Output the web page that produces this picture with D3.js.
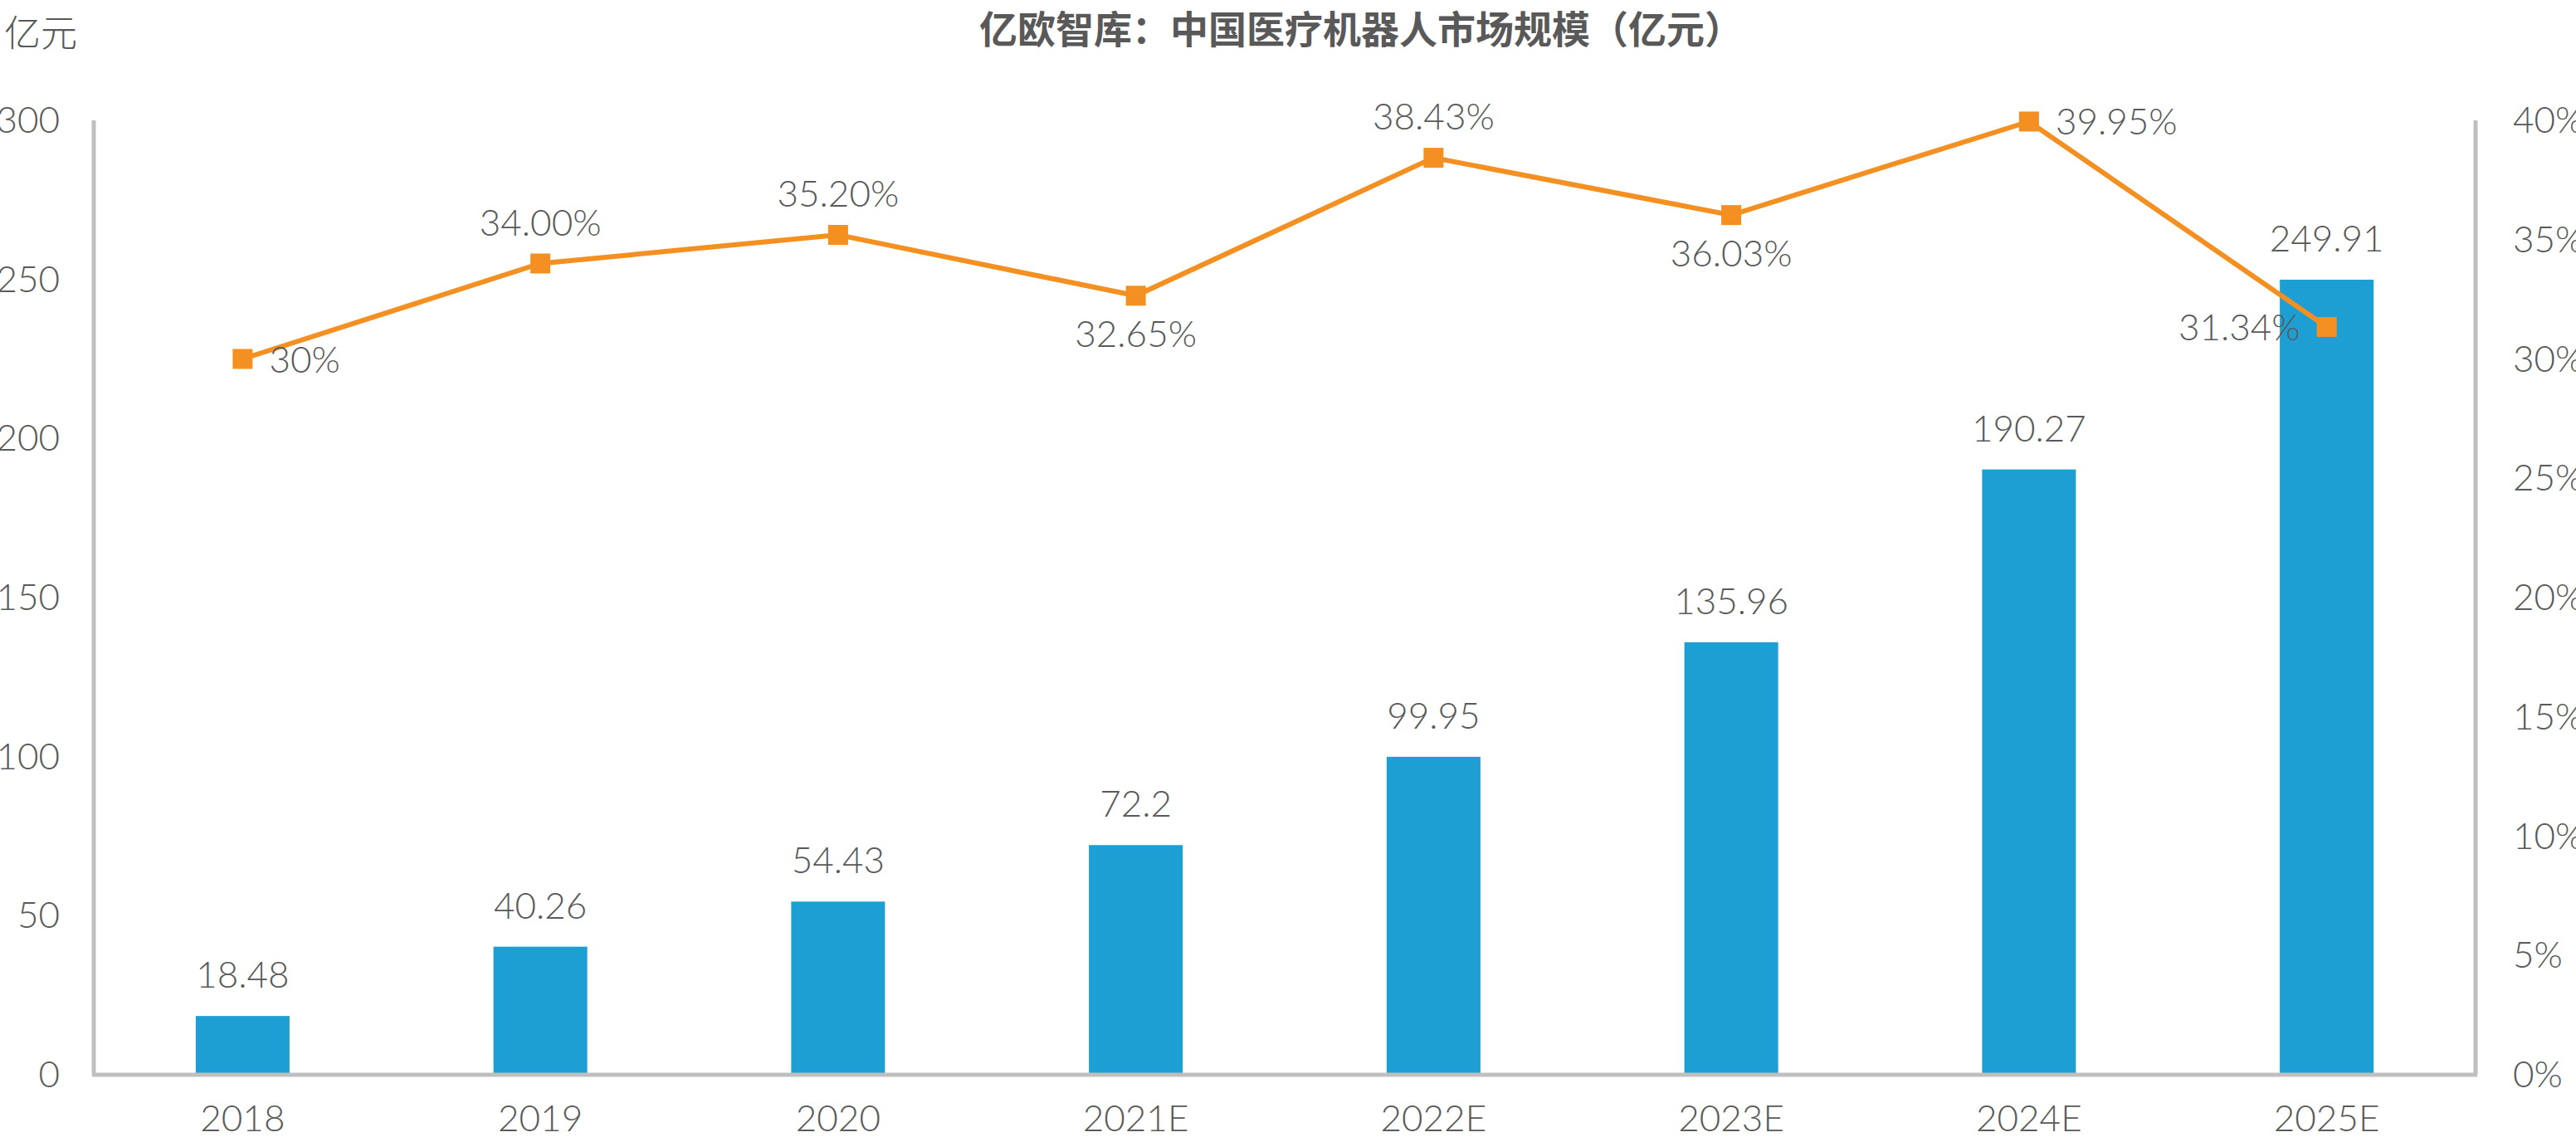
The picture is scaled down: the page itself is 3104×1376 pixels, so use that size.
<!DOCTYPE html><html><head><meta charset="utf-8"><script src="https://cdn.jsdelivr.net/npm/d3@7"></script>
<style>body{margin:0;background:#fff}text{font-family:"Lato","Noto Sans CJK SC",sans-serif;fill:#595959}</style></head><body>
<svg id="c" width="3104" height="1376"></svg>
<script>
const categories=["2018","2019","2020","2021E","2022E","2023E","2024E","2025E"];
const marketSize=[18.48,40.26,54.43,72.2,99.95,135.96,190.27,249.91];
const marketLabels=["18.48","40.26","54.43","72.2","99.95","135.96","190.27","249.91"];
const growth=[30,34.00,35.20,32.65,38.43,36.03,39.95,31.34];
const growthLabels=["30%","34.00%","35.20%","32.65%","38.43%","36.03%","39.95%","31.34%"];
const labelPos=["right","above","above","below","above","below","right","left"];
const leftTicks=[0,50,100,150,200,250,300];
const rightTicks=[0,5,10,15,20,25,30,35,40];

const svg=d3.select("#c");
const L=113,R=2983,T=145,B=1295;
const x=d3.scaleBand().domain(categories).range([L,R]).paddingInner(0.685).paddingOuter(0.3425);
const y=d3.scaleLinear().domain([0,300]).range([B,T]);
const y2=d3.scaleLinear().domain([0,40]).range([B,T]);
const fs=44;

svg.append("text").attr("x",1640).attr("y",52).attr("text-anchor","middle").attr("font-size",46).attr("font-weight",700).style("fill","#595959").style("font-family","Noto Sans CJK SC").text("亿欧智库：中国医疗机器人市场规模（亿元）");
svg.append("text").attr("x",5).attr("y",56).attr("font-size",fs).attr("font-weight",300).style("font-family","Noto Sans CJK SC").text("亿元");

svg.selectAll(".lt").data(leftTicks).join("text").attr("x",72).attr("y",d=>y(d)+15).attr("text-anchor","end").attr("font-size",fs).attr("font-weight",300).text(d=>d);
svg.selectAll(".rt").data(rightTicks).join("text").attr("x",3028).attr("y",d=>y2(d)+15).attr("font-size",fs).attr("font-weight",300).text(d=>d+"%");

svg.selectAll(".bar").data(marketSize).join("rect").attr("x",(d,i)=>x(categories[i])).attr("width",x.bandwidth()).attr("y",d=>y(d)).attr("height",d=>B-y(d)).attr("fill","#1E9FD3");
svg.selectAll(".bl").data(marketSize).join("text").attr("x",(d,i)=>x(categories[i])+x.bandwidth()/2).attr("y",d=>y(d)-34).attr("text-anchor","middle").attr("font-size",fs).attr("font-weight",300).text((d,i)=>marketLabels[i]);

const ax="#BFBFBF";
svg.append("line").attr("x1",L).attr("x2",L).attr("y1",T).attr("y2",B).attr("stroke",ax).attr("stroke-width",5);
svg.append("line").attr("x1",R).attr("x2",R).attr("y1",T).attr("y2",B).attr("stroke",ax).attr("stroke-width",5);
svg.append("line").attr("x1",L-2).attr("x2",R+2).attr("y1",B).attr("y2",B).attr("stroke",ax).attr("stroke-width",5);

svg.selectAll(".xl").data(categories).join("text").attr("x",d=>x(d)+x.bandwidth()/2).attr("y",1363).attr("text-anchor","middle").attr("font-size",fs).attr("font-weight",300).text(d=>d);

const cx=i=>x(categories[i])+x.bandwidth()/2;
svg.append("path").datum(growth).attr("d",d3.line().x((d,i)=>cx(i)).y(d=>y2(d))).attr("fill","none").attr("stroke","#F39021").attr("stroke-width",6);
svg.selectAll(".m").data(growth).join("rect").attr("x",(d,i)=>cx(i)-12).attr("y",d=>y2(d)-12).attr("width",24).attr("height",24).attr("fill","#F39021");
svg.selectAll(".gl").data(growth).join("text").attr("font-size",fs).attr("font-weight",300)
 .attr("x",(d,i)=>labelPos[i]=="right"?cx(i)+32:labelPos[i]=="left"?cx(i)-32:cx(i))
 .attr("y",(d,i)=>labelPos[i]=="above"?y2(d)-34:labelPos[i]=="below"?y2(d)+62:y2(d)+16)
 .attr("text-anchor",(d,i)=>labelPos[i]=="right"?"start":labelPos[i]=="left"?"end":"middle")
 .text((d,i)=>growthLabels[i]);
</script></body></html>
